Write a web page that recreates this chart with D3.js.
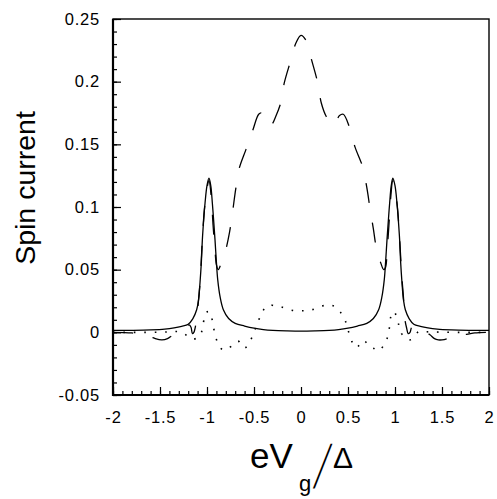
<!DOCTYPE html>
<html lang="en">
	<head>
		<meta charset="utf-8">
		<script type="text/javascript" src="https://d3js.org/d3.v7.min.js"></script>
		<style type="text/css">
			body { margin: 0; background: #fff; }
			text { font-family: "Liberation Sans", Arial, sans-serif; fill: #000; }
		</style>
	</head>
	<body>
		<script type="text/javascript">

			//Width and height
			var w = 497;
			var h = 499;

			//Tick labels
			var xTickValues = [-2, -1.5, -1, -0.5, 0, 0.5, 1, 1.5, 2];
			var xTickLabels = ["-2", "-1.5", "-1", "-0.5", "0", "0.5", "1", "1.5", "2"];
			var yTickValues = [-0.05, 0, 0.05, 0.1, 0.15, 0.2, 0.25];
			var yTickLabels = ["-0.05", "0", "0.05", "0.1", "0.15", "0.2", "0.25"];

			//Solid curve
			var solidX = [-2, -1.8, -1.6, -1.45, -1.35, -1.27, -1.2, -1.15, -1.11, -1.09, -1.074, -1.06, -1.05, -1.035, -1.021, -1.0, -0.979,
				-0.96, -0.943, -0.93, -0.915, -0.9, -0.886, -0.86, -0.826, -0.77, -0.7, -0.6, -0.5, -0.4, -0.3, -0.15, 0,
				0.15, 0.3, 0.4, 0.5, 0.6, 0.7, 0.77, 0.826, 0.86, 0.886, 0.9, 0.915, 0.93, 0.943, 0.96,
				0.977, 1.0, 1.021, 1.035, 1.05, 1.06, 1.074, 1.09, 1.11, 1.15, 1.2, 1.27, 1.35, 1.45, 1.6, 1.8, 2];
			var solidY = [0.0015, 0.0016, 0.0019, 0.0025, 0.0035, 0.0048, 0.0065, 0.011, 0.018, 0.026, 0.040, 0.056, 0.073, 0.090, 0.103, 0.117, 0.123,
				0.117, 0.103, 0.090, 0.074, 0.056, 0.042, 0.028, 0.018, 0.011, 0.0072, 0.0050, 0.0033, 0.0022, 0.0016, 0.0012, 0.0010,
				0.0012, 0.0016, 0.0022, 0.0033, 0.0050, 0.0072, 0.011, 0.018, 0.028, 0.042, 0.056, 0.074, 0.090, 0.103, 0.117,
				0.123, 0.117, 0.103, 0.090, 0.073, 0.056, 0.040, 0.026, 0.018, 0.011, 0.0065, 0.0048, 0.0035, 0.0025, 0.0019, 0.0016, 0.0015];

			//Dashed curve
			var dashedX = [-2, -1.8, -1.7, -1.6, -1.55, -1.48, -1.42, -1.38, -1.33, -1.28, -1.22, -1.19, -1.17, -1.155, -1.14, -1.12, -1.1, -1.074, -1.05, -1.021, -0.979,
				-0.955, -0.935, -0.915, -0.9, -0.88, -0.85, -0.81, -0.76, -0.73, -0.695, -0.66, -0.585, -0.514, -0.45, -0.42, -0.39, -0.35, -0.31, -0.27, -0.216, -0.178, -0.117, -0.053, 0,
				0.053, 0.114, 0.178, 0.216, 0.27, 0.31, 0.345, 0.38, 0.41, 0.45, 0.514, 0.574, 0.656, 0.699, 0.734, 0.769, 0.805, 0.85, 0.88, 0.9, 0.915, 0.935, 0.955,
				0.977, 1.021, 1.05, 1.074, 1.09, 1.106, 1.125, 1.14, 1.16, 1.178, 1.22, 1.28, 1.33, 1.372, 1.42, 1.46, 1.5, 1.556, 1.6, 1.7, 1.76, 1.85, 2];
			var dashedY = [0, -0.0005, -0.0015, -0.0035, -0.005, -0.006, -0.005, -0.003, 0.000, 0.003, 0.005, 0.006, 0.004, -0.001, 0.000, 0.006, 0.018, 0.040, 0.073, 0.103, 0.121,
				0.108, 0.085, 0.066, 0.054, 0.050, 0.055, 0.063, 0.080, 0.095, 0.114, 0.130, 0.146, 0.161, 0.174, 0.175, 0.171, 0.165, 0.166, 0.172, 0.183, 0.199, 0.215, 0.231, 0.237,
				0.233, 0.217, 0.199, 0.183, 0.172, 0.168, 0.165, 0.169, 0.173, 0.174, 0.164, 0.148, 0.132, 0.116, 0.099, 0.083, 0.066, 0.055, 0.050, 0.052, 0.064, 0.085, 0.108,
				0.121, 0.103, 0.073, 0.043, 0.028, 0.010, 0.003, -0.001, 0.000, 0.004, 0.005, 0.003, 0.000, -0.002, -0.005, -0.006, -0.006, -0.005, -0.0035, -0.0015, -0.0016, -0.0005, 0];

			//Dotted curve
			var dottedX = [-2, -1.6, -1.4, -1.3, -1.24, -1.19, -1.146, -1.1, -1.064, -1.04, -1.014, -0.987, -0.96, -0.94, -0.915, -0.883, -0.83, -0.78, -0.74, -0.67, -0.6, -0.535, -0.49, -0.45, -0.41, -0.37, -0.33, -0.27, -0.216, -0.11, 0,
				0.114, 0.22, 0.27, 0.326, 0.37, 0.415, 0.468, 0.5, 0.539, 0.59, 0.663, 0.734, 0.78, 0.82, 0.894, 0.93, 0.965, 0.99, 1.01, 1.04, 1.07, 1.11, 1.16, 1.2, 1.25, 1.3, 1.4, 1.6, 2];
			var dottedY = [0, 0, 0.0003, 0.0005, -0.0013, -0.004, -0.0055, -0.004, -0.001, 0.007, 0.0155, 0.0165, 0.0155, 0.007, -0.001, -0.009, -0.014, -0.013, -0.011, -0.007, -0.0125, -0.006, 0.002, 0.0098, 0.0165, 0.0205, 0.0218, 0.021, 0.0204, 0.0178, 0.0172,
				0.018, 0.021, 0.0215, 0.0215, 0.020, 0.0165, 0.0098, 0.002, -0.007, -0.0122, -0.0065, -0.0115, -0.013, -0.0147, -0.0088, -0.001, 0.0150, 0.0165, 0.0138, 0.006, -0.001, -0.004, -0.006, -0.004, 0.0005, 0.0005, 0.0003, 0, 0];

			//Create SVG element
			var svg = d3.select("body")
						.append("svg")
						.attr("width", w)
						.attr("height", h);

			//Create scale functions
			var xScale = d3.scaleLinear().domain([-2, 2]).range([113, 489]);
			var yScale = d3.scaleLinear().domain([-0.05, 0.25]).range([395, 19]);

			//Line generator
			var line = d3.line()
						 .x(function(d) { return xScale(d[0]); })
						 .y(function(d) { return yScale(d[1]); })
						 .curve(d3.curveCatmullRom.alpha(0.5));

			function pairs(xs, ys) {
				return xs.map(function(x, i) { return [x, ys[i]]; });
			}

			//Draw curves
			svg.append("path")
			   .datum(pairs(dottedX, dottedY))
			   .attr("d", line)
			   .attr("fill", "none")
			   .attr("stroke", "#000")
			   .attr("stroke-width", 1.6)
			   .attr("stroke-dasharray", "1.6,8.8");

			svg.append("path")
			   .datum(pairs(dashedX, dashedY))
			   .attr("d", line)
			   .attr("fill", "none")
			   .attr("stroke", "#000")
			   .attr("stroke-width", 1.3)
			   .attr("stroke-dasharray", "20,20");

			svg.append("path")
			   .datum(pairs(solidX, solidY))
			   .attr("d", line)
			   .attr("fill", "none")
			   .attr("stroke", "#000")
			   .attr("stroke-width", 1.3);

			//Minor ticks
			var xAxisMinor = d3.axisBottom(xScale)
							   .tickValues(d3.range(-20, 21).map(function(i) { return i / 10; }))
							   .tickSize(-4)
							   .tickFormat("");
			var yAxisMinor = d3.axisLeft(yScale)
							   .tickValues(d3.range(-5, 26).map(function(i) { return i / 100; }))
							   .tickSize(-4)
							   .tickFormat("");

			svg.append("g")
			   .attr("transform", "translate(0,395)")
			   .call(xAxisMinor)
			   .call(function(g) { g.select(".domain").remove(); });
			svg.append("g")
			   .attr("transform", "translate(113,0)")
			   .call(yAxisMinor)
			   .call(function(g) { g.select(".domain").remove(); });

			//Major ticks with labels
			var xAxis = d3.axisBottom(xScale)
						  .tickValues(xTickValues)
						  .tickSize(-8)
						  .tickPadding(16)
						  .tickFormat(function(d, i) { return xTickLabels[i]; });
			var yAxis = d3.axisLeft(yScale)
						  .tickValues(yTickValues)
						  .tickSize(-8)
						  .tickPadding(13)
						  .tickFormat(function(d, i) { return yTickLabels[i]; });

			svg.append("g")
			   .attr("class", "axis")
			   .attr("transform", "translate(0,395)")
			   .call(xAxis)
			   .call(function(g) { g.select(".domain").remove(); });
			svg.append("g")
			   .attr("class", "axis")
			   .attr("transform", "translate(113,0)")
			   .call(yAxis)
			   .call(function(g) { g.select(".domain").remove(); });

			svg.selectAll(".axis text")
			   .attr("font-size", "16.5px")
			   .style("letter-spacing", "0.8px");
			svg.selectAll(".tick line").attr("stroke-width", 1.2);

			//Frame
			svg.append("rect")
			   .attr("x", 113).attr("y", 19)
			   .attr("width", 376).attr("height", 376)
			   .attr("fill", "none")
			   .attr("stroke", "#000")
			   .attr("stroke-width", 1.4);
			svg.append("path")
			   .attr("d", "M113,19V395H489")
			   .attr("fill", "none")
			   .attr("stroke", "#000")
			   .attr("stroke-width", 2.2);

			//Y axis title
			svg.append("text")
			   .attr("transform", "translate(35,188) rotate(-90)")
			   .attr("text-anchor", "middle")
			   .attr("font-size", "28.5px")
			   .text("Spin current");

			//X axis title
			svg.append("text").attr("x", 250).attr("y", 468).attr("font-size", "35px").text("eV");
			svg.append("text").attr("x", 299).attr("y", 491).attr("font-size", "22px").text("g");
			svg.append("text")
			   .attr("transform", "translate(313,488) skewX(-16) scale(1,2.55)")
			   .attr("font-size", "24px")
			   .text("/");
			svg.append("text").attr("x", 333).attr("y", 468).attr("font-size", "30px").text("Δ");

		</script>
	</body>
</html>
